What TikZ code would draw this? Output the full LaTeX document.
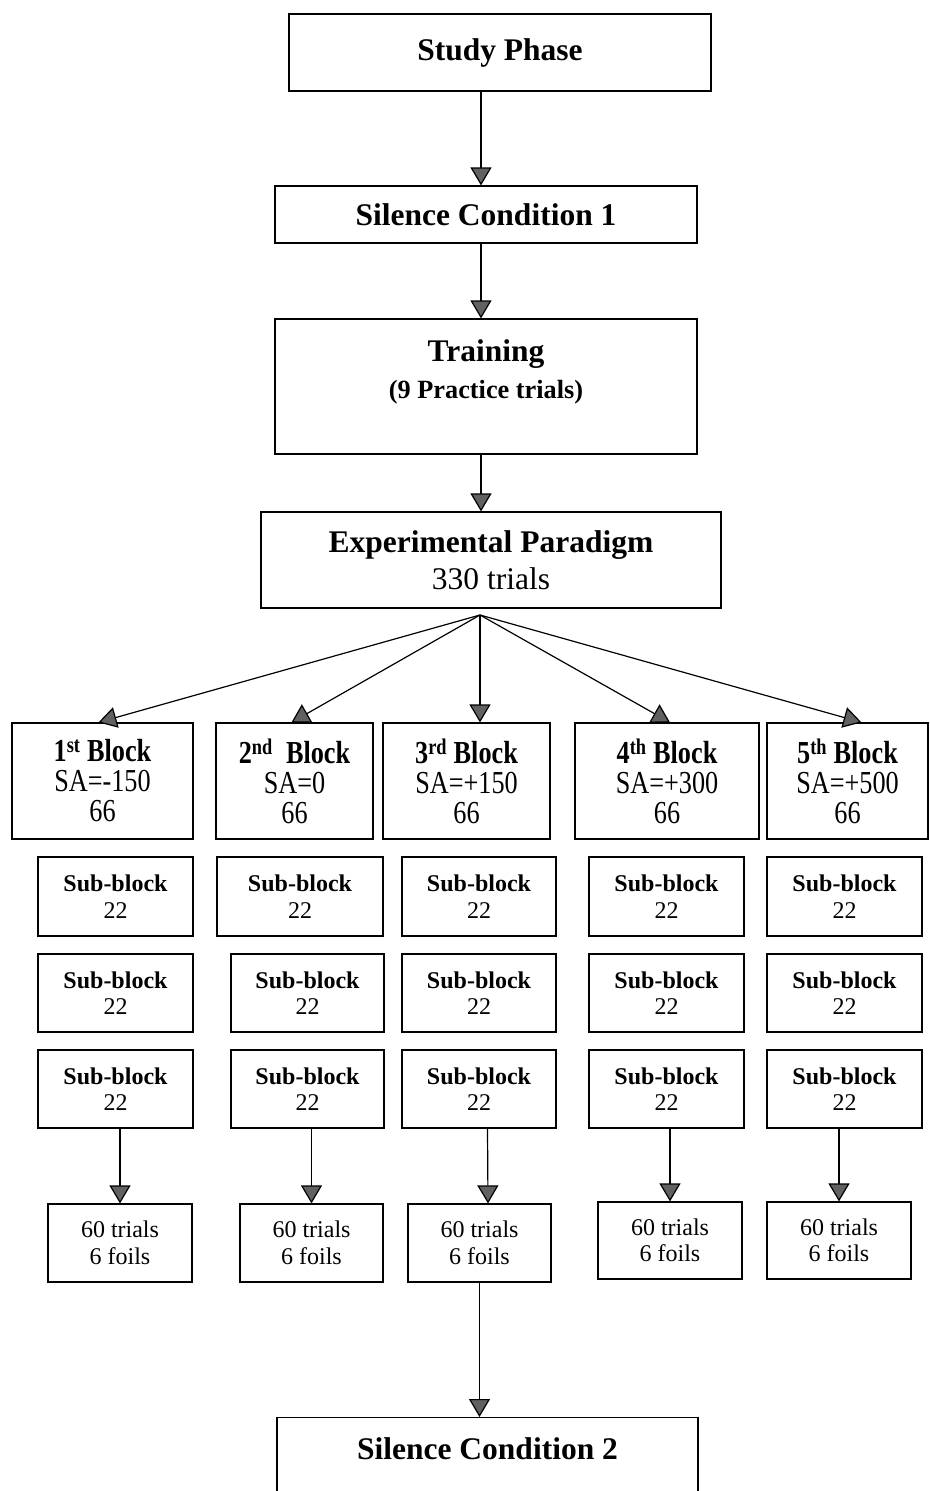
\documentclass[tikz,border=0pt]{standalone}
\usepackage{fontspec}
\setmainfont{Liberation Serif}
\newfontfamily\narrowserif[FakeStretch=0.82]{Liberation Serif}
\usepackage{tikz}
\usetikzlibrary{arrows.meta}

\begin{document}
\begin{tikzpicture}[x=1pt, y=-1pt,
        box/.style={draw, line width=1.2pt, inner sep=0pt, align=center},
        arrow/.style={line width=1.2pt, -{Triangle[width=21pt, length=18pt, fill=black!62]}},
        bigtext/.style={font=\fontsize{31.5}{37}\selectfont},
        blocktext/.style={font=\narrowserif\fontsize{32}{30}\selectfont},
        smalltext/.style={font=\fontsize{24}{26.5}\selectfont}]
        \useasboundingbox (0, 0) rectangle (929, 1491);

        \node[box, bigtext, minimum width=422pt, minimum height=77pt] (study-phase) at (500, 52.5) {\bfseries Study Phase};
        \node[box, bigtext, minimum width=422pt, minimum height=57pt] (silence-one) at (486, 214.5) {\bfseries Silence Condition 1};
        \node[box, minimum width=422pt, minimum height=135pt] (training) at (486, 386.5) {};
        \node[bigtext, align=center, inner sep=0pt, anchor=north] (training-text) at (486, 339.5)
            {\bfseries Training\\ \fontsize{26.3}{31}\selectfont\bfseries (9 Practice trials)};
        \node[box, bigtext, minimum width=460pt, minimum height=96pt] (exp-paradigm) at (491, 560)
            {\bfseries Experimental Paradigm\\330 trials};
        \coordinate (spine) at (481, 0);
        \coordinate (fan)   at (480, 615);

        \node[box, blocktext, minimum width=181pt, minimum height=116pt] (block-1) at (102.5, 781) {\bfseries 1\textsuperscript{st} Block\\SA=-150\\66};
        \node[box, blocktext, minimum width=157pt, minimum height=116pt] (block-2) at (294.5, 781) {\bfseries 2\textsuperscript{nd}\ \ Block\\SA=0\\66};
        \node[box, blocktext, minimum width=167pt, minimum height=116pt] (block-3) at (466.5, 781) {\bfseries 3\textsuperscript{rd} Block\\SA=+150\\66};
        \node[box, blocktext, minimum width=184pt, minimum height=116pt] (block-4) at (667, 781)   {\bfseries 4\textsuperscript{th} Block\\SA=+300\\66};
        \node[box, blocktext, minimum width=161pt, minimum height=116pt] (block-5) at (847.5, 781) {\bfseries 5\textsuperscript{th} Block\\SA=+500\\66};

        \node[box, smalltext, minimum width=155pt, minimum height=79pt] (sub-1-a) at (115.5, 896.5) {\bfseries Sub-block\\22};
        \node[box, smalltext, minimum width=155pt, minimum height=78pt] (sub-1-b) at (115.5, 993)   {\bfseries Sub-block\\22};
        \node[box, smalltext, minimum width=155pt, minimum height=78pt] (sub-1-c) at (115.5, 1089)  {\bfseries Sub-block\\22};
        \node[box, smalltext, minimum width=166pt, minimum height=79pt] (sub-2-a) at (300, 896.5)   {\bfseries Sub-block\\22};
        \node[box, smalltext, minimum width=153pt, minimum height=78pt] (sub-2-b) at (307.5, 993)   {\bfseries Sub-block\\22};
        \node[box, smalltext, minimum width=153pt, minimum height=78pt] (sub-2-c) at (307.5, 1089)  {\bfseries Sub-block\\22};
        \node[box, smalltext, minimum width=154pt, minimum height=79pt] (sub-3-a) at (479, 896.5)   {\bfseries Sub-block\\22};
        \node[box, smalltext, minimum width=154pt, minimum height=78pt] (sub-3-b) at (479, 993)     {\bfseries Sub-block\\22};
        \node[box, smalltext, minimum width=154pt, minimum height=78pt] (sub-3-c) at (479, 1089)    {\bfseries Sub-block\\22};
        \node[box, smalltext, minimum width=155pt, minimum height=79pt] (sub-4-a) at (666.5, 896.5) {\bfseries Sub-block\\22};
        \node[box, smalltext, minimum width=155pt, minimum height=78pt] (sub-4-b) at (666.5, 993)   {\bfseries Sub-block\\22};
        \node[box, smalltext, minimum width=155pt, minimum height=78pt] (sub-4-c) at (666.5, 1089)  {\bfseries Sub-block\\22};
        \node[box, smalltext, minimum width=155pt, minimum height=79pt] (sub-5-a) at (844.5, 896.5) {\bfseries Sub-block\\22};
        \node[box, smalltext, minimum width=155pt, minimum height=78pt] (sub-5-b) at (844.5, 993)   {\bfseries Sub-block\\22};
        \node[box, smalltext, minimum width=155pt, minimum height=78pt] (sub-5-c) at (844.5, 1089)  {\bfseries Sub-block\\22};

        \node[box, smalltext, minimum width=144pt, minimum height=78pt] (trials-1) at (120, 1243)   {60 trials\\6 foils};
        \node[box, smalltext, minimum width=143pt, minimum height=78pt] (trials-2) at (311.5, 1243) {60 trials\\6 foils};
        \node[box, smalltext, minimum width=143pt, minimum height=78pt] (trials-3) at (479.5, 1243) {60 trials\\6 foils};
        \node[box, smalltext, minimum width=144pt, minimum height=77pt] (trials-4) at (670, 1240.5) {60 trials\\6 foils};
        \node[box, smalltext, minimum width=144pt, minimum height=77pt] (trials-5) at (839, 1240.5) {60 trials\\6 foils};

        \node[box, bigtext, minimum width=421pt, text height=42pt, text depth=45pt, anchor=north] (silence-two) at (487.5, 1417)
            {\bfseries Silence Condition 2};

        \draw[arrow] (study-phase.south -| spine) -- (silence-one.north -| spine);
        \draw[arrow] (silence-one.south -| spine) -- (training.north -| spine);
        \draw[arrow] (training.south -| spine)    -- (exp-paradigm.north -| spine);

        \draw[arrow] (fan) -- ([xshift=-4pt]block-1.north);
        \draw[arrow] (fan) -- ([xshift=-3pt]block-2.north);
        \draw[arrow] (fan) -- (block-3.north -| fan);
        \draw[arrow] (fan) -- ([xshift=3pt]block-4.north);
        \draw[arrow] (fan) -- ([xshift=14pt]block-5.north);

        \draw[arrow] (sub-1-c.south -| trials-1.north) -- (trials-1.north);
        \draw[arrow] (sub-2-c.south -| trials-2.north) -- (trials-2.north);
        \draw[arrow] ([xshift=8.5pt]sub-3-c.south) -- ([xshift=8.5pt]trials-3.north);
        \draw[arrow] (sub-4-c.south -| trials-4.north) -- (trials-4.north);
        \draw[arrow] (sub-5-c.south -| trials-5.north) -- (trials-5.north);

        \draw[arrow] (trials-3.south) -- (trials-3.south |- silence-two.north);
    \end{tikzpicture}
\end{document}
